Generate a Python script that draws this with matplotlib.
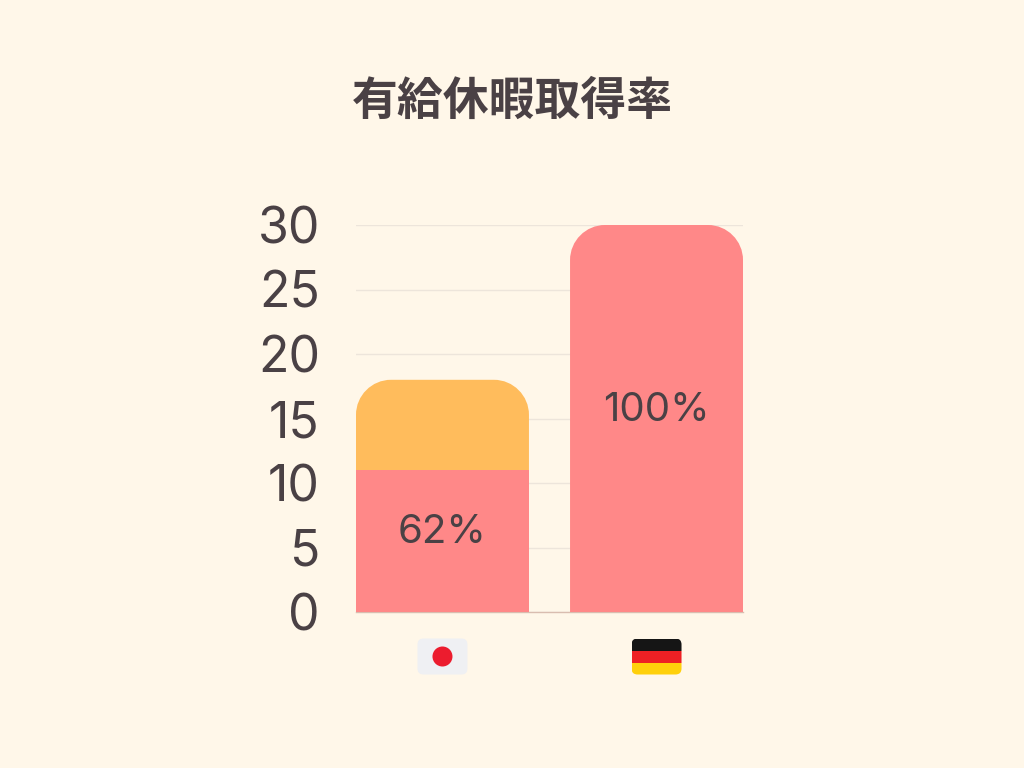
import matplotlib
matplotlib.use("Agg")
import matplotlib.pyplot as plt
from matplotlib.path import Path
from matplotlib.patches import PathPatch, FancyBboxPatch, Circle, Rectangle

title = "有給休暇取得率"
countries = ["日本", "ドイツ"]
taken = [11, 30]
granted = [18, 30]
rates = ["62%", "100%"]
yticks = [0, 5, 10, 15, 20, 25, 30]

BG = "#FFF7E9"
PINK = "#FF8888"
ORANGE = "#FFBC5C"
TEXT = "#4A4145"
GRID = "#EDE5DB"

plt.rcParams["font.family"] = ["Inter", "Noto Sans CJK JP", "DejaVu Sans"]

W, H = 1024, 768
fig = plt.figure(figsize=(W / 100, H / 100), dpi=100, facecolor=BG)
ax = fig.add_axes([356 / W, 1 - 612 / H, 387 / W, 387 / H], facecolor=BG)
ax.set_xlim(-0.404, 1.404)
ax.set_ylim(0, 30)

bar_w = 0.808
# corner radius is 35 px on screen, so work it out for each axis
rx = 35 / 387 * (ax.get_xlim()[1] - ax.get_xlim()[0])
ry = 35 / 387 * 30


def top_round_bar(x, bottom, top, color):
    l, r = x - bar_w / 2, x + bar_w / 2
    k = 0.45
    verts = [(l, bottom), (l, top - ry),
             (l, top - ry * k), (l + rx * k, top), (l + rx, top),
             (r - rx, top),
             (r - rx * k, top), (r, top - ry * k), (r, top - ry),
             (r, bottom), (l, bottom)]
    codes = [Path.MOVETO, Path.LINETO,
             Path.CURVE4, Path.CURVE4, Path.CURVE4,
             Path.LINETO,
             Path.CURVE4, Path.CURVE4, Path.CURVE4,
             Path.LINETO, Path.CLOSEPOLY]
    ax.add_patch(PathPatch(Path(verts, codes), facecolor=color, edgecolor="none", zorder=3))


for i in range(len(countries)):
    if granted[i] > taken[i]:
        top_round_bar(i, 0, granted[i], ORANGE)
        ax.bar(i, taken[i], width=bar_w, color=PINK, zorder=4)
    else:
        top_round_bar(i, 0, taken[i], PINK)
    ax.annotate(rates[i], (i, taken[i] / 2), xytext=(0, 6), textcoords="offset points",
                ha="center", va="center", fontsize=29, color=TEXT, zorder=5)

ax.set_yticks(yticks)
ax.set_xticks([])
ax.tick_params(axis="y", length=0, pad=26, labelsize=36, labelcolor=TEXT)
ax.grid(axis="y", color=GRID, linewidth=1, zorder=0)
ax.set_axisbelow(True)
for s in ["top", "right", "left"]:
    ax.spines[s].set_visible(False)
ax.spines["bottom"].set_color("#D9BDB0")
ax.spines["bottom"].set_linewidth(1)

fig.text(512 / W, 1 - 102 / H, title, ha="center", va="center", fontsize=33,
         color=TEXT, fontweight="bold",
         family=["Noto Sans CJK JP", "DejaVu Sans"])

# flags go on an overlay in pixel coordinates, centred under each bar
overlay = fig.add_axes([0, 0, 1, 1], facecolor="none")
overlay.set_xlim(0, W)
overlay.set_ylim(H, 0)
overlay.axis("off")
flag_w, flag_h, flag_y0 = 50, 36, 638.5


def flag_box(cx, color):
    box = FancyBboxPatch((cx - flag_w / 2 + 5, flag_y0 + 5), flag_w - 10, flag_h - 10,
                         boxstyle="round,pad=5,rounding_size=6",
                         facecolor=color, edgecolor="none")
    overlay.add_patch(box)
    return box


cx_jp = ax.transData.transform((0, 0))[0]
cx_de = ax.transData.transform((1, 0))[0]

flag_box(cx_jp, "#EFF0F3")
overlay.add_patch(Circle((cx_jp, flag_y0 + flag_h / 2), 10, facecolor="#EC1C2E", edgecolor="none"))

clip = flag_box(cx_de, "none")
for n, c in enumerate(["#151515", "#EE2024", "#FFD00B"]):
    r = Rectangle((cx_de - flag_w / 2, flag_y0 + n * flag_h / 3), flag_w, flag_h / 3,
                  facecolor=c, edgecolor="none")
    overlay.add_patch(r)
    r.set_clip_path(clip)

fig.savefig("out.png", dpi=100, facecolor=BG)
